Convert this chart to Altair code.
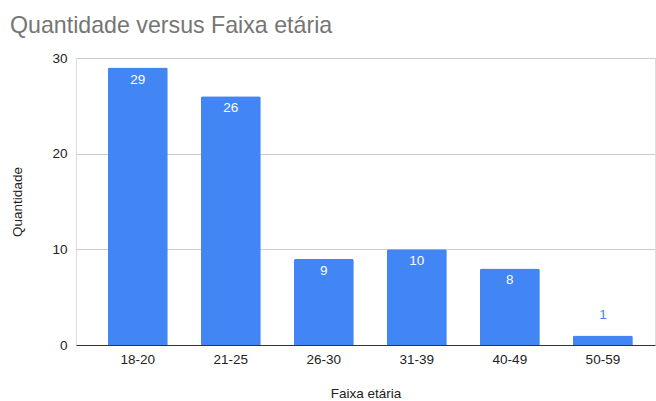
import altair as alt
import pandas as pd

faixas = ["18-20", "21-25", "26-30", "31-39", "40-49", "50-59"]
quantidades = [29, 26, 9, 10, 8, 1]

df = pd.DataFrame({"Faixa etária": faixas, "Quantidade": quantidades})

FONT = "Liberation Sans"
BLUE = "#4285F4"

x = alt.X("Faixa etária:N", sort=faixas, title="Faixa etária",
          scale=alt.Scale(paddingInner=0.355, paddingOuter=0.29, align=0.59),
          axis=alt.Axis(labelAngle=0, labelFont=FONT, labelFontSize=13.5, labelColor="#222222",
                        titleFont=FONT, titleFontSize=13.5, titleFontWeight="normal", titleColor="#222222",
                        ticks=False, domainColor="#333333", domainWidth=1, labelPadding=7, titlePadding=21,
                        grid=False))
y = alt.Y("Quantidade:Q", title="Quantidade",
          scale=alt.Scale(domain=[0, 30], nice=False),
          axis=alt.Axis(values=[0, 10, 20, 30], labelFont=FONT, labelFontSize=13.5, labelColor="#222222",
                        titleFont=FONT, titleFontSize=13.5, titleFontWeight="normal", titleColor="#222222",
                        ticks=False, domain=False, labelPadding=9, titlePadding=27,
                        gridColor="#cccccc", gridWidth=1))

bars = alt.Chart(df).mark_bar(color=BLUE, cornerRadiusTopLeft=2, cornerRadiusTopRight=2).encode(x=x, y=y)

inside = alt.Chart(df).transform_filter(alt.datum["Quantidade"] >= 5).mark_text(
    color="white", font=FONT, fontSize=13.5, baseline="middle", dy=12
).encode(x=alt.X("Faixa etária:N", sort=faixas), y="Quantidade:Q", text="Quantidade:Q")

outside = alt.Chart(df).transform_filter(alt.datum["Quantidade"] < 5).mark_text(
    color=BLUE, font=FONT, fontSize=13.5, baseline="middle", dy=-20
).encode(x=alt.X("Faixa etária:N", sort=faixas), y="Quantidade:Q", text="Quantidade:Q")

chart = alt.layer(bars, inside, outside).properties(
    width=579, height=287,
    title=alt.TitleParams("Quantidade versus Faixa etária", anchor="start", font=FONT, fontSize=23.2,
                          fontWeight="normal", color="#757575", dx=-1, offset=13),
    autosize=alt.AutoSizeParams(type="none"),
    padding={"left": 76, "top": 58, "right": 1, "bottom": 56},
).configure_view(stroke=None).configure(background="white")

chart.save("out.html", embed_options={"renderer": "svg", "actions": False})
